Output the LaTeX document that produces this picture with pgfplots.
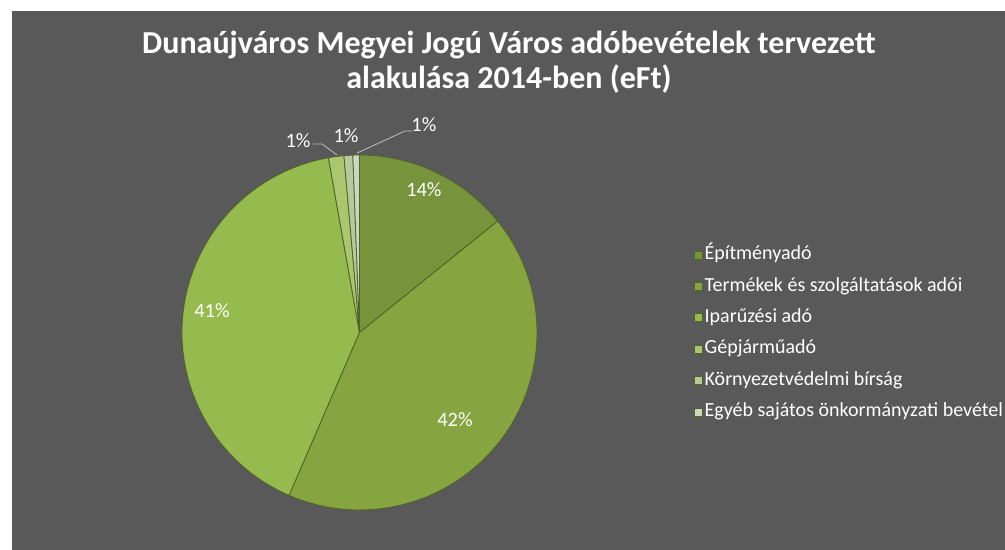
\documentclass[border=0pt]{standalone}
\usepackage{fontspec}
\setmainfont{Carlito}
\usepackage{pgfplots}
\usepackage{pgfplotstable}
\pgfplotsset{compat=1.18}
\definecolor{bg}{HTML}{595959}
\definecolor{s0}{HTML}{77933C}
\definecolor{s1}{HTML}{86A43F}
\definecolor{s2}{HTML}{95BA4E}
\definecolor{s3}{HTML}{AAC66F}
\definecolor{s4}{HTML}{B8C89D}
\definecolor{s5}{HTML}{CCD5BF}
\definecolor{edge}{HTML}{4F6228}
\definecolor{leader}{HTML}{BFBFBF}

\pgfplotstableread[col sep=comma]{
name,value
Építményadó,14.2
Termékek és szolgáltatások adói,42.3
Iparűzési adó,40.7
Gépjárműadó,1.4
Környezetvédelmi bírság,0.8
Egyéb sajátos önkormányzati bevétel,0.6
}\piedata

% cumulative angles (clockwise from 12 o'clock)
\def\cum{0}
\pgfplotsforeachungrouped \i in {0,...,5}{%
  \pgfplotstablegetelem{\i}{value}\of\piedata
  \let\v\pgfplotsretval
  \pgfmathsetmacro\sa{90-3.6*\cum}%
  \pgfmathsetmacro\cum{\cum+\v}%
  \pgfmathsetmacro\ea{90-3.6*\cum}%
  \pgfmathsetmacro\sx{cos(\sa)}%
  \pgfmathsetmacro\sy{sin(\sa)}%
  \expandafter\xdef\csname sa\i\endcsname{\sa}%
  \expandafter\xdef\csname ea\i\endcsname{\ea}%
  \expandafter\xdef\csname sx\i\endcsname{\sx}%
  \expandafter\xdef\csname sy\i\endcsname{\sy}%
}

\begin{document}
\begin{tikzpicture}
\useasboundingbox (0pt,0pt) rectangle (502.5pt,275pt);
\fill[white] (0pt,0pt) rectangle (502.5pt,275pt);
\fill[bg] (6pt,0pt) rectangle (502.5pt,269.5pt);
\node[text=white, font=\bfseries\fontsize{16}{17.5}\selectfont, align=center]
  at (254.5pt,244pt) {Dunaújváros Megyei Jogú Város adóbevételek tervezett\\alakulása 2014-ben (eFt)};
\begin{axis}[
  at={(179.75pt,108.75pt)}, anchor=center,
  x=88.75pt, y=88.75pt,
  xmin=-1, xmax=1, ymin=-1, ymax=1,
  hide axis, clip=false,
  legend style={at={(axis cs:1.85,0.525)}, anchor=north west, draw=none, fill=none,
    text=white, font=\fontsize{10}{11}\selectfont, row sep=4.7pt,
    nodes={inner sep=1pt, text height=7pt, text depth=2pt}},
  legend cell align=left,
  legend image code/.code={\path[#1] (0pt,-2pt) rectangle (4pt,2pt);},
]
\pgfplotsinvokeforeach{0,...,5}{
  \path[fill=s#1, draw=edge, line width=0.4pt, line join=round]
    (axis cs:0,0) -- (axis cs:\csname sx#1\endcsname,\csname sy#1\endcsname)
    arc[start angle=\csname sa#1\endcsname, end angle=\csname ea#1\endcsname, radius=88.75pt] -- cycle;
}
\addlegendimage{fill=s0, draw=edge, line width=0.2pt}
\addlegendentry{Építményadó}
\addlegendimage{fill=s1, draw=edge, line width=0.2pt}
\addlegendentry{Termékek és szolgáltatások adói}
\addlegendimage{fill=s2, draw=edge, line width=0.2pt}
\addlegendentry{Iparűzési adó}
\addlegendimage{fill=s3, draw=edge, line width=0.2pt}
\addlegendentry{Gépjárműadó}
\addlegendimage{fill=s4, draw=edge, line width=0.2pt}
\addlegendentry{Környezetvédelmi bírság}
\addlegendimage{fill=s5, draw=edge, line width=0.2pt}
\addlegendentry{Egyéb sajátos önkormányzati bevétel}
% data labels
\begin{scope}[every node/.style={text=white, font=\fontsize{10.2}{11}\selectfont, inner sep=0pt}]
\node at (axis cs:0.363,0.803) {14\%};
\node at (axis cs:0.538,-0.493) {42\%};
\node at (axis cs:-0.831,0.121) {41\%};
\node at (axis cs:-0.346,1.079) {1\%};
\node at (axis cs:-0.076,1.107) {1\%};
\node at (axis cs:0.363,1.169) {1\%};
\end{scope}
\draw[leader, line width=0.4pt] (axis cs:-0.262,1.062) -- (axis cs:-0.211,1.062) -- (axis cs:-0.127,1.0);
\draw[leader, line width=0.4pt] (axis cs:0.296,1.135) -- (axis cs:0.256,1.135) -- (axis cs:-0.014,1.011);
\end{axis}
\end{tikzpicture}
\end{document}
